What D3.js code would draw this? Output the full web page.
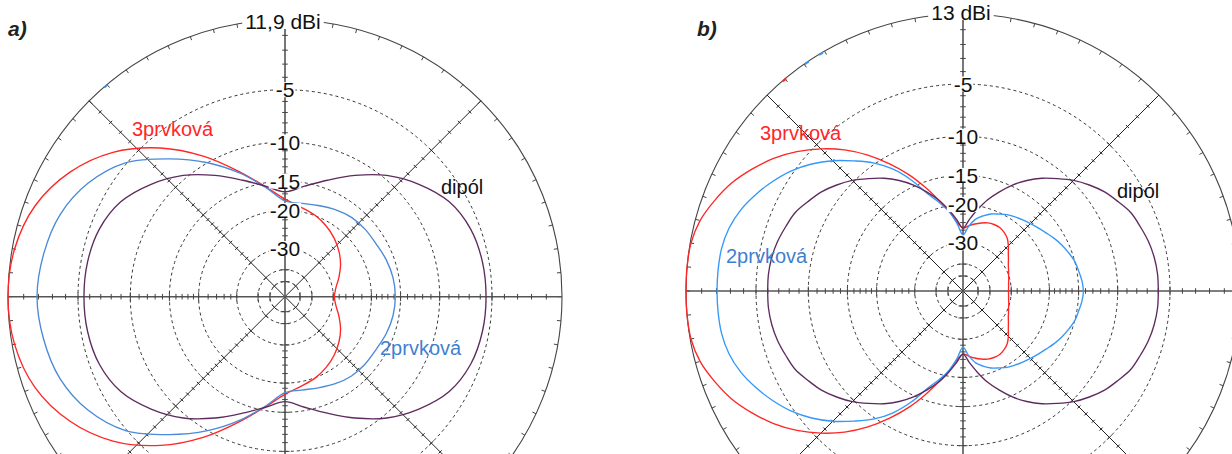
<!DOCTYPE html>
<html><head><meta charset="utf-8">
<script src="https://cdn.jsdelivr.net/npm/d3@7"></script>
<style>body{margin:0;background:#fff} svg{display:block}</style>
</head><body>
<svg id="c" width="1232" height="454"></svg>
<script>
// ---- data: attenuation below pattern maximum (dB), angle in degrees CCW from the right ----
const anglesA = d3.range(0, 360, 10);
const red3A = [29.6,28.8,27.0,25.1,23.5,22.1,20.9,19.9,19.1,17.9,15.6,12.6,9.2,6.1,3.6,1.85,0.7,0.15,0.0,
               0.15,0.7,1.85,3.6,6.1,9.2,12.6,15.6,17.9,19.1,19.9,20.9,22.1,23.5,25.1,27.0,28.8];
const blue2A = [15.8,15.9,16.2,16.6,16.7,16.9,17.4,18.0,18.4,18.2,15.7,12.8,10.0,7.4,4.9,3.4,2.5,2.1,1.9,
               2.1,2.5,3.4,4.9,7.4,10.0,12.8,15.7,18.2,18.4,18.0,17.4,16.9,16.7,16.6,16.2,15.9];
const dipA  = [5.5,5.55,5.8,6.5,7.9,9.6,11.7,13.8,15.5,16.65,15.5,13.8,11.7,9.6,7.9,6.5,5.8,5.55,5.5,
               5.55,5.8,6.5,7.9,9.6,11.7,13.8,15.5,16.65,15.5,13.8,11.7,9.6,7.9,6.5,5.8,5.55];

const anglesB = d3.range(0, 360, 5);
const red3B = [31.0,30.9,30.7,30.3,29.9,29.3,28.6,27.6,26.5,25.1,23.9,23.2,22.8,22.8,23.0,23.5,24.1,24.8,25.4,
               23.8,21.0,18.5,15.8,13.2,10.9,8.8,7.0,5.5,4.2,3.1,2.2,1.4,0.8,0.3,0.05,0.0,0.0,
               0.0,0.05,0.3,0.8,1.4,2.2,3.1,4.2,5.5,7.0,8.8,10.9,13.2,15.8,18.5,21.0,23.8,25.4,
               24.8,24.1,23.5,23.0,22.8,22.8,23.2,23.9,25.1,26.5,27.6,28.6,29.3,29.9,30.3,30.7,30.9];
const blue2B = [14.3,14.45,14.75,15.0,15.5,16.0,16.6,17.25,17.8,18.3,18.75,19.2,19.65,20.3,20.9,21.8,22.9,24.9,27.4,
               24.2,21.2,19.0,16.9,14.0,11.6,9.8,8.4,7.0,5.8,4.8,4.0,3.3,2.7,2.3,2.1,2.05,2.04,
               2.05,2.1,2.3,2.7,3.3,4.0,4.8,5.8,7.0,8.4,9.8,11.6,14.0,16.9,19.0,21.2,24.2,27.4,
               24.9,22.9,21.8,20.9,20.3,19.65,19.2,18.75,18.3,17.8,17.25,16.6,16.0,15.5,15.0,14.75,14.45];
const dipB  = [6.0,6.0,6.1,6.3,6.6,6.9,7.5,8.1,8.9,9.8,10.9,12.0,13.3,14.8,16.6,18.5,20.8,23.2,25.4,
               23.2,20.8,18.5,16.6,14.8,13.3,12.0,10.9,9.8,8.9,8.1,7.5,6.9,6.6,6.3,6.1,6.0,6.0,
               6.0,6.1,6.3,6.6,6.9,7.5,8.1,8.9,9.8,10.9,12.0,13.3,14.8,16.6,18.5,20.8,23.2,25.4,
               23.2,20.8,18.5,16.6,14.8,13.3,12.0,10.9,9.8,8.9,8.1,7.5,6.9,6.6,6.3,6.1,6.0];

// small coloured marks on the outer ring: [series index, angle deg]
const outerMarksA = [[1, 130.4]];
const outerMarksB = [[0, 130.2], [1, 124.4], [1, 120.9]];

const ringDb   = [5, 10, 15, 20, 30, 40, 50];
const ringText = ["-5", "-10", "-15", "-20", "-30"];
const tickDb   = [1,2,3,4,5,6,7,8,9,10,11,12,13,14,15,16,17,18,19,20,22,24,26,28,30,40,50];
const seriesNames = ["3prvková", "2prvková", "dipól"];
const maxLabels = ["11,9 dBi", "13 dBi"];
const panelTags = ["a)", "b)"];

// ---- drawing ----
const svg = d3.select("#c");
const FONT = "'Liberation Sans', Arial, Helvetica, sans-serif";
const REDC = "#ff2626", PURC = "#5e2b5e";

const panels = [
  {cx:285, cy:296.7, R:277, ang:anglesA, data:[red3A, blue2A, dipA], marks:outerMarksA,
   blue:"#4a8ad8", blueTxt:"#3f7fd0",
   tag:panelTags[0], tagX:8, tagY:36, title:maxLabels[0], titleY:29,
   lab:[[132,136],[380,355],[441,194]]},
  {cx:963, cy:291, R:277, ang:anglesB, data:[red3B, blue2B, dipB], marks:outerMarksB,
   blue:"#3398fa", blueTxt:"#3f7fd0",
   tag:panelTags[1], tagX:697, tagY:36, title:maxLabels[1], titleY:20,
   lab:[[760,140],[726,263],[1117,198]]}
];

const K = Math.log(0.89) / 2 / (-Math.log(10) / 20); // ARRL log-periodic scale exponent

function boxedText(parent, x, y, txt, opts) {
  const grp = parent.append("g");
  const rect = grp.append("rect").attr("fill", "#fff");
  const t = grp.append("text").attr("x", x).attr("y", y).attr("text-anchor", "middle")
    .attr("font-family", FONT).attr("font-size", opts.size || 20).attr("fill", "#111").text(txt);
  const bb = t.node().getBBox();
  rect.attr("x", bb.x - opts.padX).attr("y", bb.y + opts.padTop)
      .attr("width", bb.width + 2 * opts.padX).attr("height", bb.height - opts.padTop - opts.padBot);
  return grp;
}

panels.forEach(p => {
  const g = svg.append("g").attr("transform", `translate(${p.cx},${p.cy})`);
  const rs = d3.scalePow().exponent(K).domain([0, 1]).range([0, p.R]);
  const r = db => rs(Math.pow(10, -db / 20));
  const rad = a => a * Math.PI / 180;

  // dashed rings
  g.selectAll("circle.ring").data(ringDb).join("circle")
    .attr("r", d => r(d)).attr("fill", "none")
    .attr("stroke", "#333").attr("stroke-width", 1).attr("stroke-dasharray", "3,3");
  // outer ring
  g.append("circle").attr("r", p.R).attr("fill", "none").attr("stroke", "#444").attr("stroke-width", 1.1);
  // outer ticks every 5 deg
  g.selectAll("line.ot").data(d3.range(0, 360, 5)).join("line")
    .attr("x1", a => p.R * Math.cos(rad(a))).attr("y1", a => -p.R * Math.sin(rad(a)))
    .attr("x2", a => (p.R - 4) * Math.cos(rad(a))).attr("y2", a => -(p.R - 4) * Math.sin(rad(a)))
    .attr("stroke", "#444").attr("stroke-width", 1);

  // axes: main (0/90/180/270) and diagonals
  const axisAngles = [0, 90, 180, 270];
  const diagAngles = [45, 135, 225, 315];
  g.selectAll("line.diag").data(diagAngles).join("line")
    .attr("x1", 0).attr("y1", 0)
    .attr("x2", a => p.R * Math.cos(rad(a))).attr("y2", a => -p.R * Math.sin(rad(a)))
    .attr("stroke", "#222").attr("stroke-width", 1);
  g.selectAll("line.ax").data(axisAngles).join("line")
    .attr("x1", 0).attr("y1", 0)
    .attr("x2", a => p.R * Math.cos(rad(a))).attr("y2", a => -p.R * Math.sin(rad(a)))
    .attr("stroke", "#555").attr("stroke-width", 1.6);

  // ticks along axes
  const tickData = [];
  axisAngles.concat(diagAngles).forEach(a => tickDb.forEach(db => {
    const main = axisAngles.includes(a);
    const isRing = ringDb.includes(db);
    tickData.push({a, db, len: main ? (isRing ? 4.5 : 2.8) : (isRing ? 3 : 2.2), main});
  }));
  g.selectAll("line.tk").data(tickData).join("line")
    .each(function(d) {
      const rr = r(d.db), c = Math.cos(rad(d.a)), s = Math.sin(rad(d.a));
      const x = rr * c, y = -rr * s, px = s * d.len, py = c * d.len;
      d3.select(this).attr("x1", x - px).attr("y1", y - py).attr("x2", x + px).attr("y2", y + py);
    })
    .attr("stroke", d => d.main ? "#444" : "#222").attr("stroke-width", 1);

  // pattern curves
  const colors = [REDC, p.blue, PURC];
  const line = d3.lineRadial().curve(d3.curveCatmullRomClosed.alpha(0.5))
    .angle(d => rad(90 - d[0])).radius(d => r(d[1]));
  p.data.forEach((vals, i) => {
    g.append("path").datum(p.ang.map((a, j) => [a, vals[j]]))
      .attr("d", line).attr("fill", "none").attr("stroke", colors[i]).attr("stroke-width", 1.35);
  });

  // small coloured marks on the outer ring
  const arc = d3.arc().innerRadius(p.R - 1.5).outerRadius(p.R + 0.5);
  g.selectAll("path.mk").data(p.marks).join("path")
    .attr("d", d => arc({startAngle: rad(90 - d[1]) - 0.008, endAngle: rad(90 - d[1]) + 0.008}))
    .attr("fill", d => colors[d[0]]);

  // ring labels with white background
  ringText.forEach((t, i) => {
    boxedText(g, 0, -r(ringDb[i]) + 7.5, t, {padX: 1, padTop: 4, padBot: 4, size: 21});
  });

  // max gain title
  boxedText(svg, p.cx - 2, p.titleY, p.title, {padX: 3, padTop: 3, padBot: 4, size: 21});

  // series labels
  const txtCol = [REDC, p.blueTxt, "#111"];
  seriesNames.forEach((n, i) => {
    svg.append("text").attr("x", p.lab[i][0]).attr("y", p.lab[i][1])
      .attr("font-family", FONT).attr("font-size", 20).attr("fill", txtCol[i]).text(n);
  });

  // panel tag
  svg.append("text").attr("x", p.tagX).attr("y", p.tagY).attr("font-family", FONT)
    .attr("font-size", 21).attr("font-weight", "bold").attr("font-style", "italic").attr("fill", "#222").text(p.tag);
});
</script>
</body></html>
